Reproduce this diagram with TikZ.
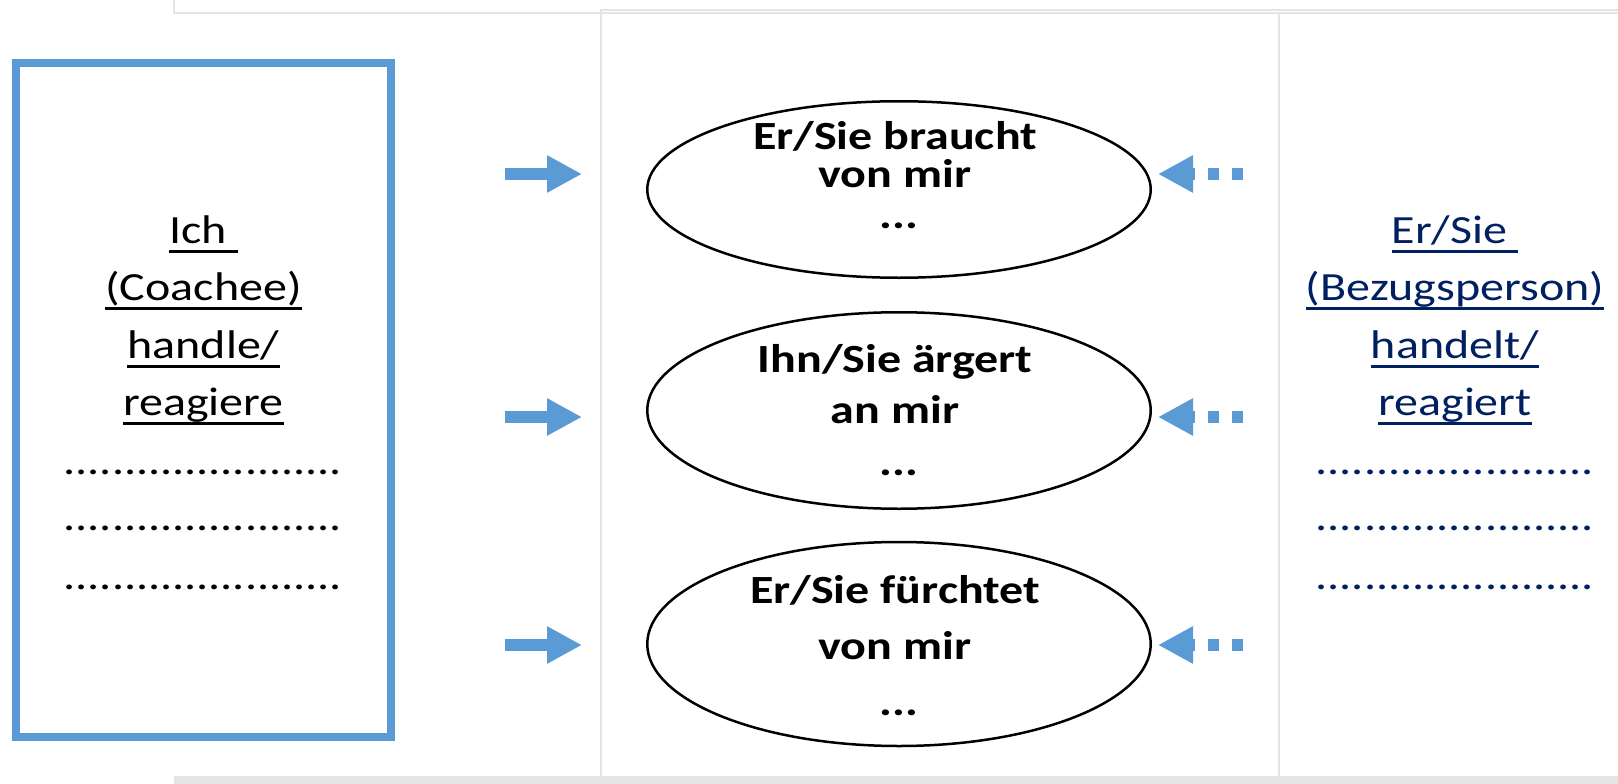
\documentclass[tikz,border=0pt]{standalone}
\usepackage{fontspec}
\setmainfont{Carlito}[FakeStretch=1.2]
\usetikzlibrary{shapes.geometric,arrows.meta}
\definecolor{pblue}{HTML}{5B9BD5}
\definecolor{navy}{HTML}{002060}
\definecolor{framegray}{HTML}{E4E4E4}
\newcommand\ulx[1]{\setbox0\hbox{#1}\rlap{\rule[-10pt]{\wd0}{3pt}}\box0}
\tikzset{
  lt/.style={anchor=base, inner sep=0pt, font=\fontsize{40}{48}\selectfont},
  et/.style={anchor=base, inner sep=0pt, font=\fontsize{40}{48}\selectfont\bfseries},
  ell/.style={ellipse, draw=black, line width=2.5pt, inner sep=0pt},
  barrow/.style={pblue, line width=12pt, -{Triangle[length=35pt,width=35pt]}},
  darrow/.style={barrow, dash pattern=on 11pt off 13pt},
  gline/.style={framegray, line width=2pt},
}
\begin{document}
\begin{tikzpicture}[x=1pt,y=-1pt]
\useasboundingbox (0,0) rectangle (1618,784);
\fill[white] (0,0) rectangle (1618,784);
% frame lines
\draw[gline] (174,0) -- (174,13.5) -- (1618,13.5);
\draw[gline] (601,784) -- (601,10) -- (1618,10);
\draw[gline] (1279,12) -- (1279,784);
\fill[framegray] (174,776) rectangle (1618,784);
% blue box
\draw[pblue, line width=8pt] (16,63) rectangle (391,737);
% left texts
\node[lt] (l1) at (203.5,243) {\ulx{Ich\ }};
\node[lt] (l2) at (203.5,300) {\ulx{(Coachee)}};
\node[lt] (l3) at (203.5,358) {\ulx{handle/}};
\node[lt] (l4) at (203.5,415) {\ulx{reagiere}};
\node[lt] (l5) at (203,474) {.......................};
\node[lt] (l6) at (203,530) {.......................};
\node[lt] (l7) at (203,589) {.......................};
% right texts
\node[lt, text=navy] (r1) at (1455,243) {\ulx{Er/Sie\ }};
\node[lt, text=navy] (r2) at (1455,300) {\ulx{(Bezugsperson)}};
\node[lt, text=navy] (r3) at (1455,358) {\ulx{handelt/}};
\node[lt, text=navy] (r4) at (1455,415) {\ulx{reagiert}};
\node[lt, text=navy] (r5) at (1455,474) {.......................};
\node[lt, text=navy] (r6) at (1455,530) {.......................};
\node[lt, text=navy] (r7) at (1455,589) {.......................};
% ellipses
\node[ell, minimum width=503.5pt, minimum height=176.5pt] (e1) at (899,189.5) {};
\node[ell, minimum width=503.5pt, minimum height=196.5pt] (e2) at (899,410.5) {};
\node[ell, minimum width=503.5pt, minimum height=204pt] (e3) at (899,644) {};
\node[et] (t11) at (895,149) {Er/Sie braucht};
\node[et] (t12) at (895,187) {von mir};
\node[et] (t13) at (899,228) {...};
\node[et] (t21) at (895,372) {Ihn/Sie ärgert};
\node[et] (t22) at (895,423) {an mir};
\node[et] (t23) at (899,475) {...};
\node[et] (t31) at (895,603) {Er/Sie fürchtet};
\node[et] (t32) at (895,659) {von mir};
\node[et] (t33) at (899,715) {...};
% arrows
\coordinate (a1s) at (505,174); \coordinate (a1e) at (582,174);
\coordinate (a2s) at (505,417); \coordinate (a2e) at (582,417);
\coordinate (a3s) at (505,645); \coordinate (a3e) at (582,645);
\coordinate (b1s) at (1243,174); \coordinate (b1e) at (1158,174);
\coordinate (b2s) at (1243,417); \coordinate (b2e) at (1158,417);
\coordinate (b3s) at (1243,645); \coordinate (b3e) at (1158,645);
\draw[barrow] (a1s) -- (a1e);
\draw[barrow] (a2s) -- (a2e);
\draw[barrow] (a3s) -- (a3e);
\draw[darrow] (b1s) -- (b1e);
\draw[darrow] (b2s) -- (b2e);
\draw[darrow] (b3s) -- (b3e);
\end{tikzpicture}
\end{document}
